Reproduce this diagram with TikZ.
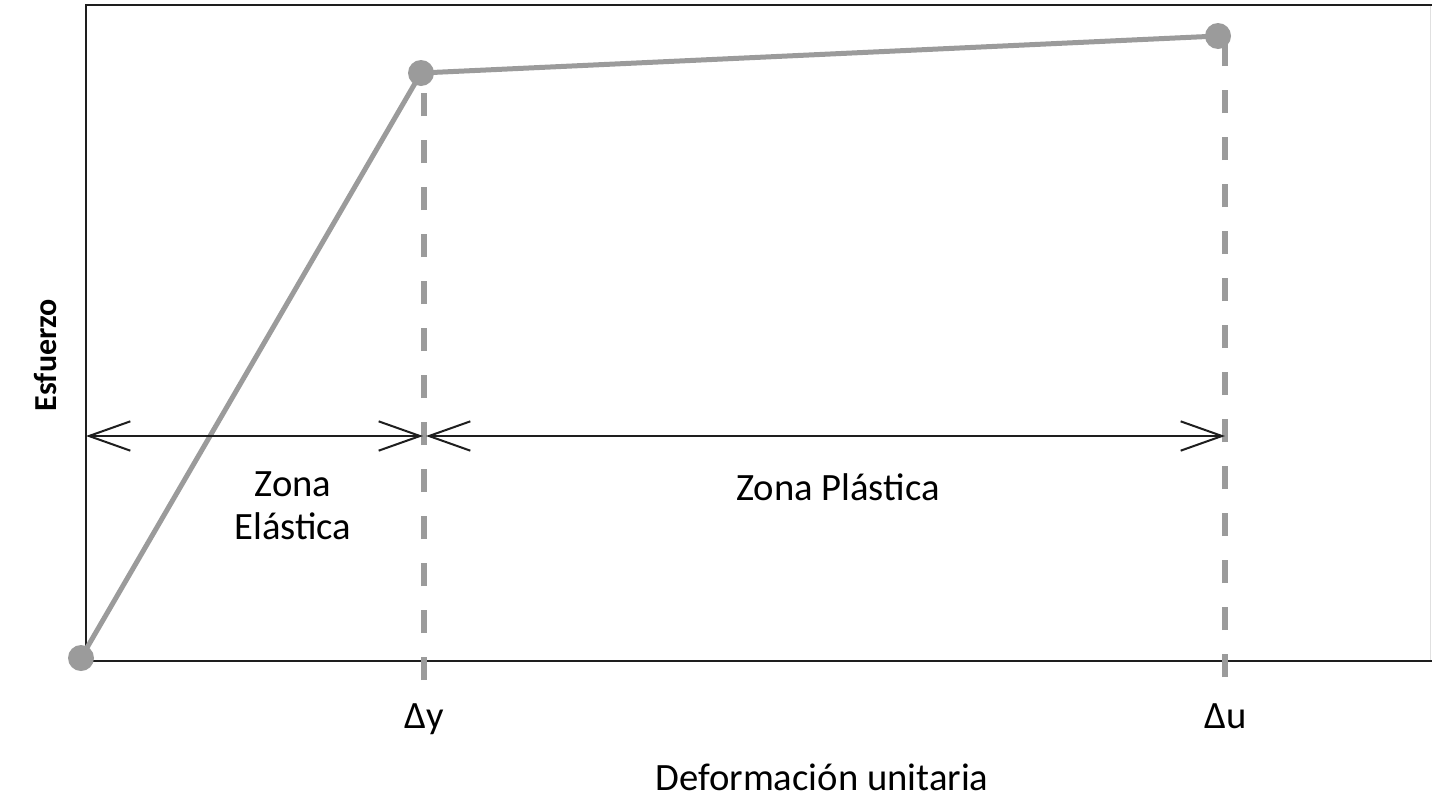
\documentclass[tikz,border=0pt]{standalone}
\usepackage{fontspec}
\setmainfont{Carlito}
\usetikzlibrary{arrows.meta}
\usetikzlibrary{positioning}

\definecolor{curvegray}{RGB}{155,155,155}
\definecolor{axisblack}{RGB}{30,30,30}

\begin{document}
\begin{tikzpicture}[x=0.75pt,y=0.75pt,yscale=-1,xscale=1,
  curve/.style={color=curvegray,line width=3.75pt,line join=round},
  guide/.style={color=curvegray,line width=4.5pt,dash pattern={on 17.25pt off 18pt}},
  dim/.style={axisblack,line width=1.5pt,{Straight Barb[length=31pt,width=22pt]}-{Straight Barb[length=31pt,width=22pt]}},
  lbl/.style={inner sep=0.75pt,font=\fontsize{29}{32}\selectfont,align=center}]
\useasboundingbox (0,0) rectangle (1432,811);

%Frame of the plot
\coordinate (tl) at (86,5);
\coordinate (tr) at (1430,5);
\coordinate (bl) at (86,661);
\coordinate (br) at (1432,661);
\draw [color=black!12,line width=0.75pt] (tr) -- (1430,661);
\draw [axisblack,line width=1.5pt] (br) -- (bl) -- (tl) -- (1432,5);

%Points of the curve
\coordinate (O) at (81,658);
\coordinate (Y) at (421,73);
\coordinate (U) at (1218,36);
%Dashed guides, drawn from below so the dashes line up with the axis
\coordinate (yb) at (424,680);
\coordinate (ub) at (1225,677);
\draw [guide] (yb) -- (424,73);
\draw [guide] (ub) -- (1225,36);

%Stress-strain curve
\draw [curve] (O) -- (Y) -- (U);
\foreach \p in {O,Y,U}
  \fill [curvegray] (\p) circle [radius=13];

%Dimension arrows
\coordinate (ea) at (86,436);
\coordinate (eb) at (423,436);
\coordinate (pa) at (426,436);
\coordinate (pb) at (1225,436);
\draw [dim] (ea) -- (eb);
\draw [dim] (pa) -- (pb);

% Text Node
\node [lbl] (zel) at (293,506) {Zona\\Elástica};
% Text Node
\node [lbl] (zpl) at (838,487) {Zona Plástica};
% Text Node
\node [lbl,anchor=base] (dy) at (424,728) {Δy};
% Text Node
\node [lbl,anchor=base] (du) at (1226,728) {Δu};
% Text Node
\node [lbl,anchor=base] (xlab) at (822,790) {Deformación unitaria};
% Text Node
\node [lbl,font=\bfseries\fontsize{24}{28}\selectfont,rotate=90] (ylab) at (45,355) {Esfuerzo};

\end{tikzpicture}
\end{document}
